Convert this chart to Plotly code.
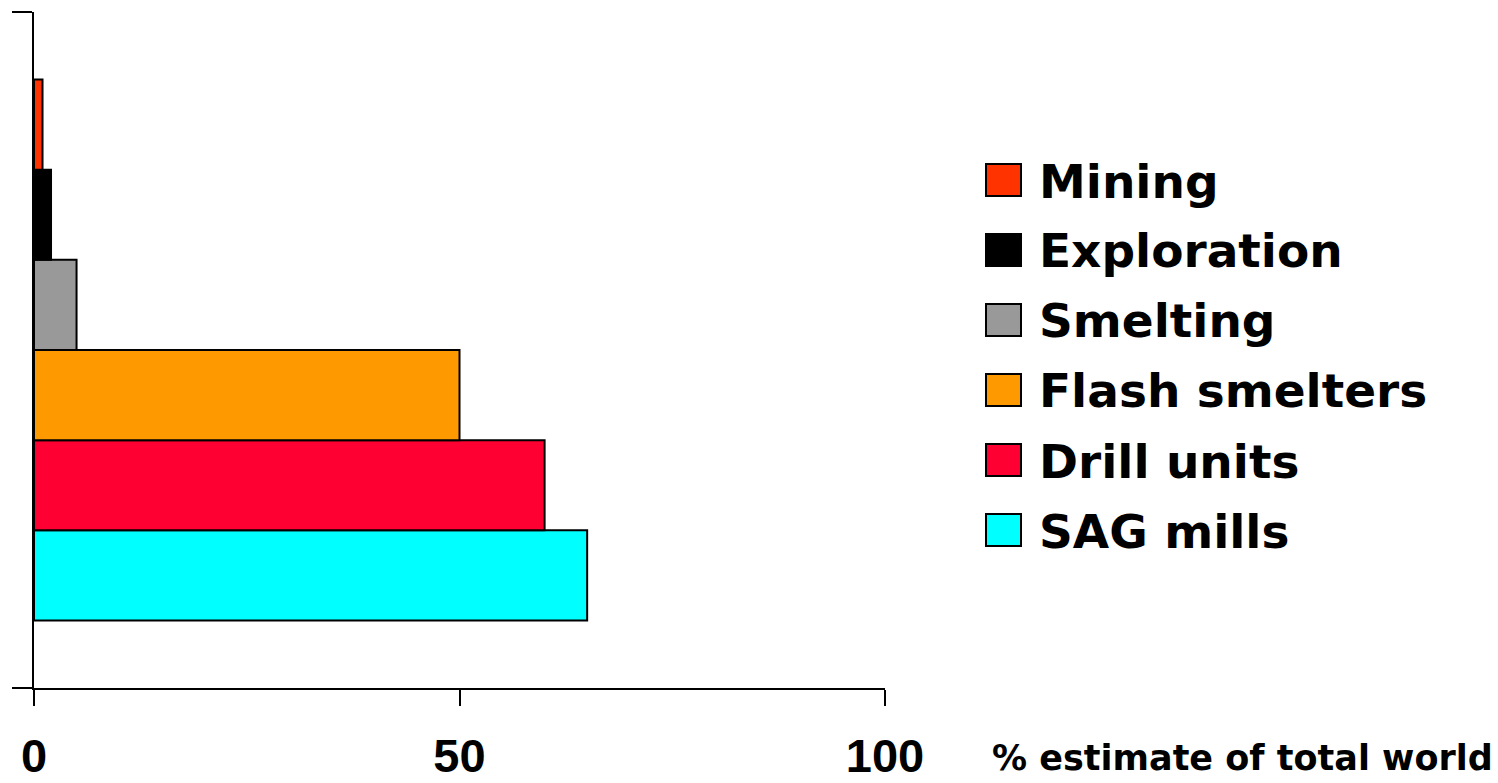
import plotly.graph_objects as go

# Series shown in the key, top to bottom
series = ["Mining", "Exploration", "Smelting", "Flash smelters", "Drill units", "SAG mills"]
shares = [1, 2, 5, 50, 60, 65]  # % estimate of total world
colors = ["#FF3300", "#000000", "#999999", "#FF9900", "#FF0033", "#00FFFF"]
x_ticks = [0, 50, 100]
x_title = "% estimate of total world"
group = ["World"]

W, H = 1498, 783
L, R, T, B = 34, 613, 12, 95
plot_w = W - L - R
plot_h = H - T - B

FONT = "DejaVu Sans"
TICK_FONT = "Liberation Sans"

fig = go.Figure()

# grouped bars: first trace sits at the bottom, so add them in reverse order
for name, val, col in reversed(list(zip(series, shares, colors))):
    fig.add_trace(go.Bar(
        x=[val], y=group, name=name, orientation="h",
        marker=dict(color=col, line=dict(color="black", width=2)),
        showlegend=False,
    ))

fig.update_layout(
    width=W, height=H,
    margin=dict(l=L, r=R, t=T, b=B),
    paper_bgcolor="white", plot_bgcolor="white",
    barmode="group", bargap=0.2, bargroupgap=0,
    showlegend=False,
    font=dict(family=FONT, color="black"),
)

fig.update_xaxes(
    range=[0, 100], tickvals=x_ticks, ticktext=[str(v) for v in x_ticks],
    automargin=False,
    showgrid=False, zeroline=False,
    showline=True, linecolor="black", linewidth=2,
    ticks="outside", ticklen=16, tickwidth=2, tickcolor="black",
    tickfont=dict(family=TICK_FONT, size=47, color="black", weight="bold"),
    ticklabelstandoff=10,
)
fig.update_yaxes(
    type="category", range=[-0.5, 0.5], tickson="boundaries",
    automargin=False,
    showticklabels=False, showgrid=False, zeroline=False,
    showline=True, linecolor="black", linewidth=2,
    ticks="outside", ticklen=20, tickwidth=2, tickcolor="black",
)

def px_x(p):
    return (p - L) / plot_w

def px_y(p):
    return (T + plot_h - p) / plot_h

# hand-built key with large swatches
for i, (name, col) in enumerate(zip(series, colors)):
    yc = 180 + 70 * i
    fig.add_shape(
        type="rect", xref="paper", yref="paper",
        x0=px_x(986), x1=px_x(1021), y0=px_y(yc + 16), y1=px_y(yc - 16),
        fillcolor=col, line=dict(color="black", width=2),
    )
    fig.add_annotation(
        xref="paper", yref="paper", x=px_x(1037), y=px_y(yc + 1),
        xanchor="left", yanchor="middle", showarrow=False,
        text=name, font=dict(family=FONT, size=47, color="black", weight="bold"),
    )

fig.add_annotation(
    xref="paper", yref="paper", x=px_x(990), y=px_y(758),
    xanchor="left", yanchor="middle", showarrow=False,
    text=x_title, font=dict(family=FONT, size=35, color="black", weight="bold"),
)

fig.write_html("out.html")
